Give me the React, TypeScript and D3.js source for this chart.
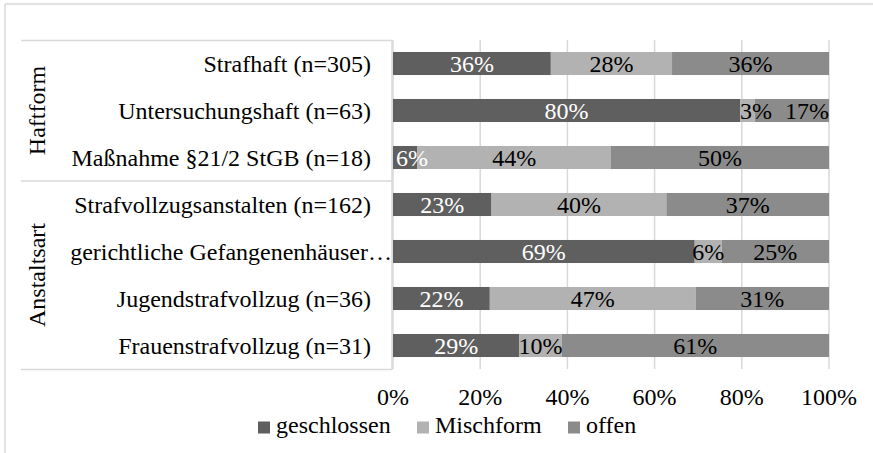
import React from "react";
import * as d3 from "d3";

const categories = [
  "Strafhaft (n=305)",
  "Untersuchungshaft (n=63)",
  "Maßnahme §21/2 StGB (n=18)",
  "Strafvollzugsanstalten (n=162)",
  "gerichtliche Gefangenenhäuser…",
  "Jugendstrafvollzug (n=36)",
  "Frauenstrafvollzug (n=31)",
];
const groups = [
  { name: "Haftform", from: 0, to: 2 },
  { name: "Anstaltsart", from: 3, to: 6 },
];
const seriesNames = ["geschlossen", "Mischform", "offen"];
const geschlossen = [36.2, 79.6, 5.6, 22.6, 69.2, 22.2, 29.0];
const mischform = [27.8, 3.4, 44.4, 40.1, 6.2, 47.2, 9.7];
const offen = [36.0, 17.0, 50.0, 37.3, 24.6, 30.6, 61.3];
const xTicks = [0, 20, 40, 60, 80, 100];

const colors = ["#5f5f5f", "#b2b2b2", "#8b8b8b"];
const labelColors = ["#ffffff", "#000000", "#000000"];
const FONT = "Liberation Serif";
const FS = 24;
const tStyle = { fontFamily: FONT, fontSize: FS };

export default function App() {
  const W = 873;
  const H = 453;
  const x = d3.scaleLinear().domain([0, 100]).range([393, 829]);
  const y = d3
    .scaleBand<string>()
    .domain(categories)
    .range([40, 369])
    .paddingInner(0.51)
    .paddingOuter(0.255);

  const series = [geschlossen, mischform, offen];
  const table = categories.map((c, i) => {
    const o: any = { cat: c };
    seriesNames.forEach((s, k) => (o[s] = series[k][i]));
    return o;
  });
  const stacked = d3.stack<any>().keys(seriesNames)(table);

  // label placement per row (centered, start-aligned if very narrow, pushed right on overlap)
  const labels: { x: number; y: number; text: string; k: number }[] = [];
  categories.forEach((c, i) => {
    let prevEnd = -Infinity;
    const cy = y(c)! + y.bandwidth() / 2;
    stacked.forEach((s, k) => {
      const d = s[i];
      const x0 = x(d[0]);
      const x1 = x(d[1]);
      const w = x1 - x0;
      const text = Math.round(d[1] - d[0]) + "%";
      const lw = FS * (0.5 * (text.length - 1) + 0.833);
      let cx = (x0 + x1) / 2;
      if (w < 26) cx = x0 + (w < 20 ? 0 : 3) + lw / 2;
      if (cx - lw / 2 < prevEnd + 4) cx = x1 - lw / 2;
      prevEnd = cx + lw / 2;
      labels.push({ x: cx, y: cy, text, k });
    });
  });

  const grid = "#d9d9d9";
  const legendX = [258, 417, 568];

  return (
    <svg
      width={W}
      height={H}
      style={{ position: "absolute", left: 0, top: 0, background: "#fff" }}
    >
      <rect x={0} y={0} width={W} height={H} fill="#fff" />
      {/* outer border */}
      <line x1={5} x2={W} y1={4} y2={4} stroke={grid} strokeWidth={1.5} />
      <line x1={5} x2={5} y1={4} y2={H} stroke={grid} strokeWidth={1.5} />

      {/* grid */}
      {xTicks.map((t) => (
        <line
          key={"g" + t}
          x1={x(t)}
          x2={x(t)}
          y1={40}
          y2={369}
          stroke={grid}
          strokeWidth={1.5}
        />
      ))}

      {/* category table lines */}
      <line x1={21} x2={392} y1={40.5} y2={40.5} stroke={grid} strokeWidth={1.5} />
      {groups.slice(1).map((g) => {
        const yy = y(categories[g.from])! - (y.step() - y.bandwidth()) / 2;
        return (
          <line key={"sep" + g.name} x1={21} x2={392} y1={yy} y2={yy} stroke={grid} strokeWidth={1.5} />
        );
      })}
      <line x1={21} x2={392} y1={369.5} y2={369.5} stroke={grid} strokeWidth={1.5} />
      <line x1={392} x2={392} y1={40} y2={370} stroke={grid} strokeWidth={1.5} />

      {/* bars */}
      {stacked.map((s, k) => (
        <g key={s.key}>
          {s.map((d, i) => (
            <rect
              key={i}
              x={x(d[0])}
              y={y(categories[i])}
              width={x(d[1]) - x(d[0])}
              height={y.bandwidth()}
              fill={colors[k]}
            />
          ))}
        </g>
      ))}

      {/* data labels */}
      {labels.map((l, j) => (
        <text
          key={"lab" + j}
          x={l.x}
          y={l.y}
          dy="0.36em"
          textAnchor="middle"
          style={tStyle}
          fill={labelColors[l.k]}
        >
          {l.text}
        </text>
      ))}

      {/* category labels */}
      {categories.map((c) => {
        const truncated = c.endsWith("…");
        return (
          <text
            key={c}
            x={truncated ? 392 : 371}
            y={y(c)! + y.bandwidth() / 2}
            dy="0.36em"
            textAnchor="end"
            style={tStyle}
            fill="#000"
          >
            {c}
          </text>
        );
      })}

      {/* group labels */}
      {groups.map((g) => {
        const cy =
          (y(categories[g.from])! + y(categories[g.to])! + y.bandwidth()) / 2;
        return (
          <text
            key={g.name}
            transform={`translate(45,${cy}) rotate(-90)`}
            textAnchor="middle"
            style={tStyle}
            fill="#000"
          >
            {g.name}
          </text>
        );
      })}

      {/* x tick labels */}
      {xTicks.map((t) => (
        <text key={"t" + t} x={x(t)} y={405} textAnchor="middle" style={tStyle} fill="#000">
          {t + "%"}
        </text>
      ))}

      {/* legend */}
      {seriesNames.map((n, k) => (
        <g key={"leg" + n}>
          <rect x={legendX[k]} y={421.5} width={12} height={12} fill={colors[k]} />
          <text x={legendX[k] + 18} y={433} style={tStyle} fill="#000">
            {n}
          </text>
        </g>
      ))}
    </svg>
  );
}
